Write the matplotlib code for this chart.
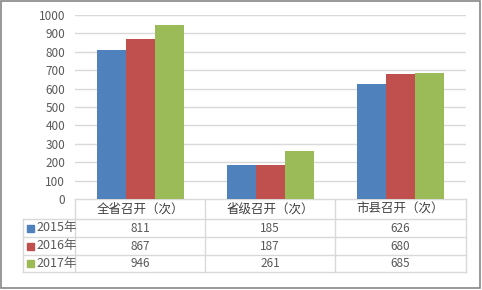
import numpy as np
import matplotlib.pyplot as plt

plt.rcParams['font.family'] = ['Noto Sans CJK SC', 'DejaVu Sans']

categories = ["全省召开（次）", "省级召开（次）", "市县召开（次）"]
series_names = ["2015年", "2016年", "2017年"]
values_2015 = [811, 185, 626]
values_2016 = [867, 187, 680]
values_2017 = [946, 261, 685]
colors = ["#4F81BD", "#C0504D", "#9BBB59"]
yticks = list(range(0, 1001, 100))

W, H = 482, 290
fig = plt.figure(figsize=(W / 100, H / 100), dpi=100)
text_color = "#595959"
grid_color = "#D9D9D9"

# frame around the whole chart
frame = fig.add_axes([0, 0, 1, 1])
frame.set_xlim(0, W)
frame.set_ylim(H, 0)
frame.axis("off")
frame.add_patch(plt.Rectangle((0.5, 0.5), W - 2.5, H - 2.5, fill=False,
                              edgecolor="#868686", linewidth=1.2))

left, right, top, bottom = 75, 466, 15, 199
ax = fig.add_axes([left / W, 1 - bottom / H, (right - left) / W, (bottom - top) / H])

all_values = [values_2015, values_2016, values_2017]
x = np.arange(len(categories))
width = 0.223
for i, vals in enumerate(all_values):
    ax.bar(x + (i - 1) * width, vals, width, color=colors[i], zorder=3)

ax.set_xlim(-0.5, len(categories) - 0.5)
ax.set_ylim(0, 1000)
ax.set_yticks(yticks)
ax.set_yticklabels([str(t) for t in yticks], fontsize=8.5, color=text_color)
ax.tick_params(axis="y", length=0, pad=7)
ax.set_xticks([])
ax.yaxis.grid(True, color=grid_color, linewidth=1, zorder=0)
for s in ax.spines.values():
    s.set_visible(False)

# data table under the plot
col_edges = [75, 205, 335, 466]
row_edges = [199, 219, 237, 255, 272]
leg_left = 23
lw = 1
frame.plot([col_edges[0], col_edges[-1]], [row_edges[0], row_edges[0]], color=grid_color, lw=lw)
for yy in row_edges[1:]:
    frame.plot([leg_left, col_edges[-1]], [yy, yy], color=grid_color, lw=lw)
for xx in col_edges:
    frame.plot([xx, xx], [row_edges[0], row_edges[-1]], color=grid_color, lw=lw)
frame.plot([leg_left, leg_left], [row_edges[1], row_edges[-1]], color=grid_color, lw=lw)

for j, cat in enumerate(categories):
    cx = (col_edges[j] + col_edges[j + 1]) / 2
    frame.text(cx, (row_edges[0] + row_edges[1]) / 2, cat, ha="center", va="center",
               fontsize=9, color="#404040")

for i, (name, vals) in enumerate(zip(series_names, all_values)):
    cy = (row_edges[i + 1] + row_edges[i + 2]) / 2
    frame.add_patch(plt.Rectangle((27, cy - 3.5), 7, 7, color=colors[i]))
    frame.text(36, cy, name, ha="left", va="center", fontsize=9, color=text_color)
    for j, v in enumerate(vals):
        cx = (col_edges[j] + col_edges[j + 1]) / 2
        frame.text(cx, cy, str(v), ha="center", va="center", fontsize=8.5, color=text_color)

fig.savefig("out.png", dpi=100)
